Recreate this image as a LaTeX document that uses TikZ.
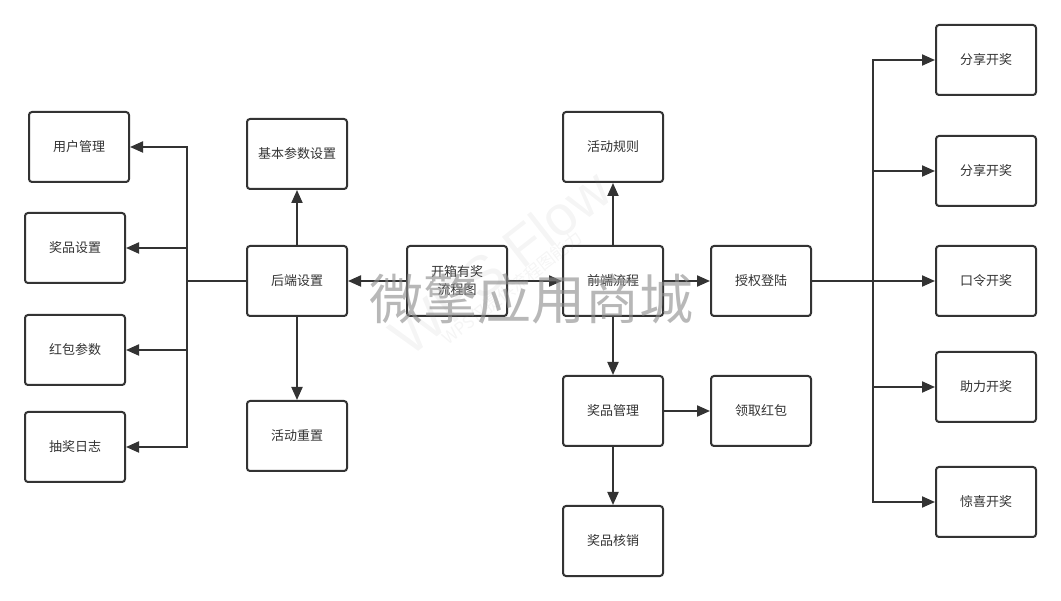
\documentclass[tikz,border=0pt]{standalone}
\usepackage{fontspec}
\setmainfont{Noto Sans CJK SC}
\newfontfamily\cjk{Noto Sans CJK SC}
\usetikzlibrary{arrows.meta}
\definecolor{ln}{HTML}{333333}
\definecolor{tx}{HTML}{333333}
\definecolor{wm}{HTML}{8C8C8C}
\tikzset{
  box/.style={draw=ln, line width=2pt, rounded corners=3pt, fill=white,
    minimum width=100pt, minimum height=70pt, inner sep=0pt,
    font=\cjk\fontsize{13}{18}\selectfont, text=tx, align=center},
  conn/.style={draw=ln, line width=2pt},
  arr/.style={conn, -{Triangle[length=13pt 0 0,width=11pt 0 0]}},
}
\begin{document}
\begin{tikzpicture}[x=1pt,y=-1pt]
\useasboundingbox (0,0) rectangle (1061,601);
% left column
\node[box] (yhgl) at (79,147) {用户管理};
\node[box] (jpsz) at (75,248) {奖品设置};
\node[box] (hbcs) at (75,350) {红包参数};
\node[box] (cjrz) at (75,447) {抽奖日志};
% backend
\node[box] (jbcs) at (297,154) {基本参数设置};
\node[box] (hdsz) at (297,281) {后端设置};
\node[box] (hdcz) at (297,436) {活动重置};
% center
\node[box] (kxyj) at (457,281) {开箱有奖\\流程图};
% frontend
\node[box] (qdlc) at (613,281) {前端流程};
\node[box] (hdgz) at (613,147) {活动规则};
\node[box] (jpgl) at (613,411) {奖品管理};
\node[box] (lqhb) at (761,411) {领取红包};
\node[box] (jphx) at (613,541) {奖品核销};
\node[box] (sqdl) at (761,281) {授权登陆};
% right column
\node[box] (r1) at (986,60) {分享开奖};
\node[box] (r2) at (986,171) {分享开奖};
\node[box] (r3) at (986,281) {口令开奖};
\node[box] (r4) at (986,387) {助力开奖};
\node[box] (r5) at (986,502) {惊喜开奖};
% trunks
\coordinate (lt) at (187,281);
\coordinate (rt) at (873,281);
% connectors left
\draw[arr] (hdsz.west) -- (lt) |- (yhgl.east);
\draw[arr] (hdsz.west) -- (lt) |- (jpsz.east);
\draw[arr] (hdsz.west) -- (lt) |- (hbcs.east);
\draw[arr] (hdsz.west) -- (lt) |- (cjrz.east);
\draw[arr] (hdsz.north) -- (jbcs.south);
\draw[arr] (hdsz.south) -- (hdcz.north);
\draw[arr] (kxyj.west) -- (hdsz.east);
\draw[arr] (kxyj.east) -- (qdlc.west);
\draw[arr] (qdlc.north) -- (hdgz.south);
\draw[arr] (qdlc.south) -- (jpgl.north);
\draw[arr] (jpgl.east) -- (lqhb.west);
\draw[arr] (jpgl.south) -- (jphx.north);
\draw[arr] (qdlc.east) -- (sqdl.west);
\draw[arr] (sqdl.east) -- (rt) |- (r1.west);
\draw[arr] (sqdl.east) -- (rt) |- (r2.west);
\draw[arr] (sqdl.east) -- (rt) |- (r3.west);
\draw[arr] (sqdl.east) -- (rt) |- (r4.west);
\draw[arr] (sqdl.east) -- (rt) |- (r5.west);
% watermarks
\node[rotate=38, text=wm, opacity=0.09, font=\fontspec{Liberation Sans}\fontsize{56}{60}\selectfont, inner sep=0pt] (wm2) at (500,262) {WPS Flow};
\node[rotate=38, text=wm, opacity=0.09, font=\cjk\fontsize{17}{20}\selectfont, inner sep=0pt] (wm3) at (512,288) {WPS仅提供流程图能力};
\node[text=wm, opacity=0.62, font=\cjk\fontsize{54}{60}\selectfont, inner sep=0pt] (wm1) at (531,299) {微擎应用商城};
\end{tikzpicture}
\end{document}
